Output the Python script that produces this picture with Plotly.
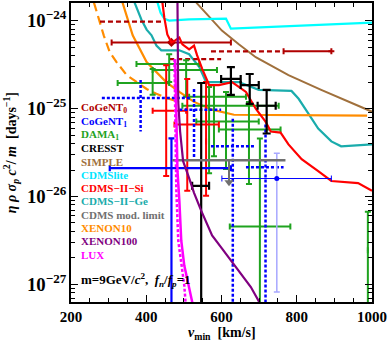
import plotly.graph_objects as go

SERIF = "Liberation Serif"
BOTTOM = 5e-28  # below the plot floor: bars that run off the bottom

# ---- exclusion curves: v_min [km/s] vs limit [days^-1] ----
cdmslite_v = [430, 438, 448, 461, 514, 612, 625, 805, 1000]
cdmslite_y = [1.6e-24, 1.23e-24, 1.05e-24, 1.0e-24, 1.03e-24, 1.05e-24, 8.1e-25, 8.8e-25, 9.5e-25]

simple_v = [533, 567, 601, 646, 691, 778, 865, 1000]
simple_y = [1.6e-24, 1.11e-24, 7.7e-25, 5.37e-25, 3.83e-25, 2.4e-25, 1.63e-25, 9.2e-26]

xenon10_v = [337, 350, 364, 401, 453, 488, 527, 575, 633, 987]
xenon10_y = [1.6e-24, 1.03e-24, 6.8e-25, 3.37e-25, 2.0e-25, 1.545e-25, 1.19e-25, 9.7e-26, 8.5e-26, 8.3e-26]

xenon10d_v = [261, 277, 287, 303, 321, 348, 374, 401, 427, 453, 488]
xenon10d_y = [1.6e-24, 9.5e-25, 6.8e-25, 4.36e-25, 3.37e-25, 2.4e-25, 2.0e-25, 1.67e-25, 1.47e-25, 1.32e-25, 1.19e-25]

ge_v = [369, 387, 401, 414, 427, 440, 488, 514, 541, 559, 646, 699, 786, 805, 831, 857, 892, 918, 1000]
ge_y = [1.6e-24, 1.03e-24, 7.9e-25, 6.8e-25, 5.2e-25, 4.59e-25, 4.59e-25, 4.14e-25, 2.96e-25, 2.0e-25,
        2.0e-25, 1.63e-25, 1.585e-25, 1.29e-25, 8.73e-26, 5.93e-26, 4.23e-26, 3.72e-26, 3.91e-26]

si_v = [443, 448, 456, 467, 477, 488, 496, 514, 527, 535, 549, 567, 593, 628, 646, 665, 691,
        717, 731, 757, 778, 813, 857, 892, 963, 1000]
si_y = [1.6e-24, 1.08e-24, 6.95e-25, 5.65e-25, 5.95e-25, 6.4e-25, 5.37e-25, 4.71e-25, 5.2e-25, 4.04e-25,
        2.81e-25, 1.85e-25, 1.85e-25, 2.0e-25, 1.76e-25, 1.545e-25, 9.95e-26, 7.1e-26, 5.48e-26, 5.33e-26,
        3.91e-26, 2.65e-26, 1.94e-26, 1.5e-26, 1.42e-26, 1.16e-26]

xenon100_v = [483, 483, 485, 490, 498, 514, 527, 546, 575, 601, 646, 678, 705]
xenon100_y = [1.6e-24, 3.37e-25, 1.19e-25, 5.48e-26, 2.52e-26, 1.62e-26, 1.1e-26, 6.9e-27, 3.6e-27,
              2.57e-27, 1.45e-27, 9.35e-28, 5.8e-28]

lux_v = [477, 480, 483, 488, 493, 501, 512, 524]
lux_y = [3.64e-25, 7.1e-26, 1.94e-26, 8.9e-27, 3.16e-27, 1.65e-27, 9.84e-28, 5.8e-28]
luxd_v = [475, 477, 480, 485, 493, 501, 505]
luxd_y = [3.64e-25, 7.1e-26, 1.16e-26, 3.16e-27, 1.65e-27, 9.84e-28, 5.8e-28]

# ---- CoGeNT0 (dark red) ----
cog0_v, cog0_vlo, cog0_vhi, cog0_y = [467], [308], [625], [5.65e-25]
cog0_dash_v = [277, 443, None, 461, 599, None, 572, 765]
cog0_dash_y = [9.75e-25, 9.75e-25, None, 3.64e-25, 3.64e-25, None, 4.47e-25, 4.47e-25]
cog0_seg_v, cog0_seg_vlo, cog0_seg_vhi, cog0_seg_y = [892], [765], [892], [4.47e-25]

# ---- CoGeNT1 (blue) ----
cog1_v = [467, 747]
cog1_vlo = [303, 601]
cog1_vhi = [625, 892]
cog1_y = [2.1e-26, 1.6e-26]
cog1_ylo = [BOTTOM, 1.6e-26]
cog1_yhi = [4.57e-26, 1.6e-26]
cog1_faint_v, cog1_faint_y, cog1_faint_ylo, cog1_faint_yhi = [747], [1.6e-26], [8.2e-28], [3.1e-26]
cog1_dot_v = [282, 519, None, 385, 385, None, 488, 599, None, 527, 527, None,
              572, 691, None, 630, 630, None, 665, 765, None, 717, 717]
cog1_dot_y = [1.32e-25, 1.32e-25, None, 2.11e-25, 5.48e-26, None, 9.7e-26, 9.7e-26, None, 1.67e-25, 2.65e-26, None,
              3.72e-26, 3.72e-26, None, 7.67e-26, BOTTOM, None, 2.15e-26, 2.15e-26, None, 6.57e-26, BOTTOM]

# ---- DAMA1 (green) ----
dama_v = [461, 506, 417, 612, 567, 580, 673, 702, 989]
dama_vlo = [374, 417, 324, 514, 496, 533, 593, 622, 989]
dama_vhi = [541, 588, 461, 665, 752, 699, 757, 783, 989]
dama_y = [3.2e-25, 2.74e-25, 1.95e-25, 1.36e-25, 1.075e-25, 7.1e-26, 5.77e-26, 4.55e-27, 2.44e-27]
dama_ylo = [2.0e-25, 1.36e-25, 1.43e-25, 2.05e-26, 1.84e-26, 2.86e-26, 1.39e-26, BOTTOM, BOTTOM]
dama_yhi = [4.14e-25, 3.55e-25, 2.81e-25, 1.545e-25, 1.76e-25, 1.85e-25, 1.19e-25, 4.57e-26, 6.7e-27]

# ---- CRESST (black) ----
cresst_v = [625, 675, 720, 546]
cresst_vlo = [599, 651, 696, 522]
cresst_vhi = [651, 699, 744, 567]
cresst_y = [2.17e-25, 1.85e-25, 1.075e-25, 1.32e-26]
cresst_ylo = [1.43e-25, 1.13e-25, 5.2e-26, BOTTOM]
cresst_yhi = [2.96e-25, 2.47e-25, 1.63e-25, 1.95e-25]

# ---- CDMS-II-Si events (red) ----
siev_v = [453, 509, 559]
siev_vlo = [417, 475, 559]
siev_vhi = [506, 593, 559]
siev_y = [9.45e-26, 6.57e-26, 4.23e-26]
siev_ylo = [1.71e-26, 1.16e-26, 1.02e-26]
siev_yhi = [3.11e-25, 2.17e-25, 2.0e-25]

# ---- CDMS modulation limit (grey) ----
cdmsmod_v = [469, 770]
cdmsmod_y = [2.58e-26, 2.58e-26]
cdmsmod_arrow_v = [620, 620]
cdmsmod_arrow_y = [2.58e-26, 1.45e-26]

legend_labels = ["CoGeNT<sub>0</sub>", "CoGeNT<sub>1</sub>", "DAMA<sub>1</sub>", "CRESST", "SIMPLE",
                 "CDMSlite", "CDMS\u2212II\u2212Si", "CDMS\u2212II\u2212Ge", "CDMS mod. limit",
                 "XENON10", "XENON100", "LUX"]
legend_colors = ["#b00000", "#0000ff", "#1fa31f", "#000000", "#a0703c", "#00e5ff", "#ff0000",
                 "#1aacac", "#707070", "#ff8c00", "#800080", "#ff00ff"]

x_ticks = [200, 400, 600, 800, 1000]


def _err(c, lo, hi):
    up = [h - v if h != v else None for v, h in zip(c, hi)]
    dn = [v - l if l != v else None for v, l in zip(c, lo)]
    return up, dn


def add_cross(fig, v, vlo, vhi, y, ylo, yhi, color, thick=2, width=3):
    xu, xd = _err(v, vlo, vhi)
    yu, yd = _err(y, ylo, yhi)
    fig.add_trace(go.Scatter(
        x=v, y=y, mode="markers", marker=dict(size=2, color=color),
        error_x=dict(type="data", symmetric=False, array=xu, arrayminus=xd,
                     color=color, thickness=thick, width=width),
        error_y=dict(type="data", symmetric=False, array=yu, arrayminus=yd,
                     color=color, thickness=thick, width=width),
    ))


def line(fig, x, y, color, width=2, dash="solid"):
    fig.add_trace(go.Scatter(x=x, y=y, mode="lines", connectgaps=False,
                             line=dict(color=color, width=width, dash=dash)))


fig = go.Figure()

line(fig, simple_v, simple_y, "#a0703c")
line(fig, cdmslite_v, cdmslite_y, "#00ffff", 2.2)
line(fig, ge_v, ge_y, "#1aacac", 2.2)
line(fig, xenon10d_v, xenon10d_y, "#ff8c00", 2.2, "9px,5px")
line(fig, xenon10_v, xenon10_y, "#ff8c00", 2.2)

# CoGeNT0
line(fig, cog0_dash_v, cog0_dash_y, "#b00000", 2.2, "5px,3px")
add_cross(fig, cog0_v, cog0_vlo, cog0_vhi, cog0_y, cog0_y, cog0_y, "#b00000")
add_cross(fig, cog0_seg_v, cog0_seg_vlo, cog0_seg_vhi, cog0_seg_y, cog0_seg_y, cog0_seg_y, "#b00000")
fig.add_trace(go.Scatter(x=cog0_v, y=cog0_y, mode="markers",
                         marker=dict(size=7, color="#b00000", symbol="diamond")))

# DAMA
add_cross(fig, dama_v, dama_vlo, dama_vhi, dama_y, dama_ylo, dama_yhi, "#1fa31f")

# CDMS-II-Si
line(fig, si_v, si_y, "#ff0000", 2.2)
add_cross(fig, siev_v, siev_vlo, siev_vhi, siev_y, siev_ylo, siev_yhi, "#ff0000")

# CoGeNT1
line(fig, cog1_dot_v, cog1_dot_y, "#0000ff", 2.5, "3px,2px")
fig.add_trace(go.Scatter(
    x=cog1_faint_v, y=cog1_faint_y, mode="markers", marker=dict(size=1, color="#a8a8ff"),
    error_y=dict(type="data", symmetric=False,
                 array=[h - v for v, h in zip(cog1_faint_y, cog1_faint_yhi)],
                 arrayminus=[v - l for v, l in zip(cog1_faint_y, cog1_faint_ylo)],
                 color="#a8a8ff", thickness=1.5, width=3)))
add_cross(fig, cog1_v[:1], cog1_vlo[:1], cog1_vhi[:1], cog1_y[:1], cog1_ylo[:1], cog1_yhi[:1], "#0000ff", 2.2)
add_cross(fig, cog1_v[1:], cog1_vlo[1:], cog1_vhi[1:], cog1_y[1:], cog1_ylo[1:], cog1_yhi[1:], "#0000ff", 1, 3)
fig.add_trace(go.Scatter(x=cog1_v[1:], y=cog1_y[1:], mode="markers",
                         marker=dict(size=5, color="#0000ff")))

# CRESST
add_cross(fig, cresst_v, cresst_vlo, cresst_vhi, cresst_y, cresst_ylo, cresst_yhi, "#000000", 2.2, 4)

# CDMS modulation limit
line(fig, cdmsmod_v, cdmsmod_y, "#707070", 2.5)
line(fig, cdmsmod_arrow_v, cdmsmod_arrow_y, "#707070", 2)
fig.add_trace(go.Scatter(x=cdmsmod_arrow_v[1:], y=cdmsmod_arrow_y[1:], mode="markers",
                         marker=dict(symbol="triangle-down", size=8, color="#707070")))

# XENON100 / LUX
line(fig, xenon100_v, xenon100_y, "#800080", 2.2)
line(fig, luxd_v, luxd_y, "#ff00ff", 2.5, "3px,2px")
line(fig, lux_v, lux_y, "#ff00ff", 2.5)

ann = []
for i, (lab, col) in enumerate(zip(legend_labels, legend_colors)):
    ann.append(dict(xref="paper", yref="paper", x=0.027, y=(302 - (107 + 13.4 * i)) / 301,
                    xanchor="left", yanchor="middle", showarrow=False,
                    text="<b>" + lab + "</b>", font=dict(family=SERIF, size=11, color=col)))
ann.append(dict(xref="paper", yref="paper", x=0.027, y=(302 - 280) / 301, xanchor="left",
                yanchor="middle", showarrow=False,
                text="<b>m=9GeV/<i>c</i><sup>2</sup>,  <i>f<sub>n</sub></i>/<i>f<sub>p</sub></i>=1</b>",
                font=dict(family=SERIF, size=13, color="black")))
ann.append(dict(xref="paper", yref="paper", x=-0.2, y=0.5, xanchor="center", yanchor="middle",
                textangle=-90, showarrow=False,
                text="<b><i>\u03b7 \u03c1 \u03c3<sub>p</sub> c</i><sup>2</sup>/ <i>m</i>  [days<sup>\u22121</sup>]</b>",
                font=dict(family=SERIF, size=14, color="black")))
ann.append(dict(xref="paper", yref="paper", x=0.5, y=-0.105, xanchor="center", yanchor="middle",
                showarrow=False,
                text="<b><i>v</i><sub>min</sub>  [km/s]</b>",
                font=dict(family=SERIF, size=14, color="black")))

axis_common = dict(showline=True, linecolor="black", linewidth=1.5, mirror="allticks",
                   ticks="inside", ticklen=7, tickwidth=1, tickcolor="black", showgrid=False,
                   zeroline=False, ticklabeloverflow="allow",
                   tickfont=dict(family=SERIF, size=15, color="black", weight="bold"))

fig.update_layout(
    width=388, height=341, margin=dict(l=71, r=14, t=1, b=39),
    paper_bgcolor="white", plot_bgcolor="white", showlegend=False,
    annotations=ann,
    xaxis=dict(range=[200, 1000], tickvals=x_ticks,
               minor=dict(dtick=50, tick0=200, ticks="inside", ticklen=4, tickcolor="black"),
               **axis_common),
    yaxis=dict(type="log", range=[-27.2, -23.8], dtick=1, exponentformat="power",
               minor=dict(dtick="D1", ticks="inside", ticklen=4, tickcolor="black"),
               **axis_common),
)

fig.write_html("out.html", config={"displayModeBar": False},
               post_script="document.body.style.margin='0';")
